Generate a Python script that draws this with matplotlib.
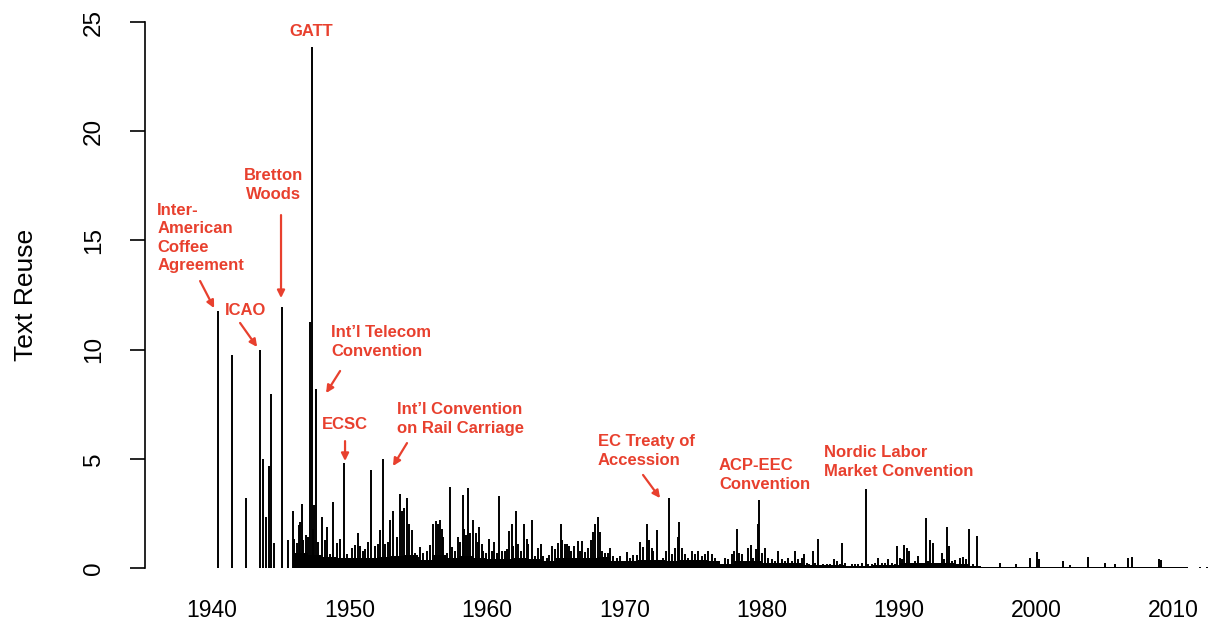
import numpy as np
import matplotlib
matplotlib.use("Agg")
import matplotlib.pyplot as plt

plt.rcParams['font.family'] = ['Liberation Sans', 'DejaVu Sans']

RED = '#E8402E'

# individual treaties: date (year) and text reuse score
treaty_years = [
    1940.44, 1941.46, 1942.47, 1943.49, 1943.73, 1943.93, 1944.13, 1944.32, 1944.53, 1945.07,
    1945.55, 1945.86, 1945.99, 1946.16, 1946.33, 1946.40, 1946.53, 1946.64, 1946.82, 1947.01,
    1947.10, 1947.24, 1947.35, 1947.45, 1947.57, 1947.74, 1947.98, 1948.22, 1948.39, 1948.59,
    1948.83, 1949.08, 1949.32, 1949.59, 1949.80, 1950.17, 1950.41, 1950.60, 1950.77, 1951.01,
    1951.14, 1951.38, 1951.57, 1951.86, 1952.10, 1952.23, 1952.42, 1952.59, 1952.79, 1952.98,
    1953.15, 1953.44, 1953.68, 1953.85, 1954.00, 1954.17, 1954.34, 1954.53, 1954.77, 1955.01,
    1955.14, 1955.38, 1955.63, 1955.87, 1956.11, 1956.27, 1956.43, 1956.59, 1956.72, 1956.83,
    1957.07, 1957.32, 1957.45, 1957.65, 1957.88, 1958.05, 1958.25, 1958.36, 1958.46, 1958.61,
    1958.78, 1959.02, 1959.19, 1959.38, 1959.45, 1959.63, 1959.75, 1959.92, 1960.16, 1960.36,
    1960.52, 1960.72, 1960.91, 1961.08, 1961.32, 1961.45, 1961.64, 1961.81, 1961.93, 1962.10,
    1962.29, 1962.49, 1962.71, 1962.90, 1963.02, 1963.31, 1963.51, 1963.75, 1963.92, 1964.11,
    1964.36, 1964.53, 1964.72, 1964.96, 1965.20, 1965.38, 1965.50, 1965.69, 1965.82, 1965.98,
    1966.13, 1966.35, 1966.62, 1966.78, 1966.95, 1967.15, 1967.39, 1967.56, 1967.71, 1967.87,
    1968.07, 1968.24, 1968.41, 1968.60, 1968.82, 1968.97, 1969.21, 1969.45, 1969.69, 1969.93,
    1970.18, 1970.42, 1970.66, 1970.91, 1971.15, 1971.39, 1971.64, 1971.81, 1972.00, 1972.12,
    1972.37, 1972.61, 1972.85, 1973.04, 1973.26, 1973.46, 1973.70, 1973.89, 1973.99, 1974.19,
    1974.43, 1974.67, 1974.91, 1975.15, 1975.39, 1975.64, 1975.88, 1976.12, 1976.37, 1976.61,
    1976.85, 1977.10, 1977.34, 1977.58, 1977.83, 1978.01, 1978.19, 1978.36, 1978.55, 1978.79,
    1979.03, 1979.23, 1979.40, 1979.57, 1979.72, 1979.81, 1980.05, 1980.25, 1980.49, 1980.74,
    1980.98, 1981.22, 1981.46, 1981.70, 1981.94, 1982.19, 1982.43, 1982.67, 1982.92, 1983.11,
    1983.28, 1983.47, 1983.76, 1983.89, 1984.08, 1984.25, 1984.49, 1984.74, 1984.98, 1985.29,
    1985.47, 1985.71, 1985.87, 1986.07, 1986.31, 1986.56, 1986.80, 1987.04, 1987.29, 1987.58,
    1987.77, 1988.01, 1988.25, 1988.49, 1988.74, 1988.98, 1989.22, 1989.47, 1989.71, 1989.89,
    1990.07, 1990.24, 1990.40, 1990.56, 1990.73, 1990.93, 1991.17, 1991.36, 1991.65, 1991.94,
    1992.11, 1992.26, 1992.50, 1992.73, 1993.11, 1993.27, 1993.47, 1993.64, 1993.86, 1994.11,
    1994.44, 1994.66, 1994.88, 1995.10, 1995.35, 1995.68, 1995.86, 1997.35, 1998.52, 1999.53,
    2000.07, 2000.21, 2001.96, 2002.45, 2003.76, 2004.99, 2005.72, 2006.65, 2006.98, 2008.95,
    2009.04, 2011.90, 2012.39,
]
treaty_reuse = [
    11.75, 9.75, 3.2, 10.0, 5.0, 2.35, 4.65, 7.95, 1.15, 11.95,
    1.3, 2.6, 1.35, 1.13, 1.97, 2.1, 2.95, 1.28, 1.5, 1.43,
    11.25, 23.85, 1.8, 2.9, 8.2, 1.2, 2.35, 1.28, 1.9, 0.63,
    3.0, 1.13, 1.35, 4.8, 0.63, 0.93, 1.07, 1.6, 1.0, 0.78,
    0.85, 1.2, 4.5, 1.0, 1.1, 1.75, 5.0, 1.1, 1.2, 2.2,
    2.6, 1.4, 3.4, 2.6, 2.75, 3.2, 2.0, 1.75, 0.7, 0.5,
    0.97, 0.7, 0.78, 1.05, 2.0, 2.15, 2.0, 2.2, 1.8, 1.43,
    0.7, 3.7, 0.95, 0.8, 1.4, 1.2, 3.35, 1.8, 1.5, 3.65,
    1.6, 2.2, 1.6, 1.2, 1.9, 1.1, 0.8, 0.7, 1.35, 0.8,
    1.2, 0.7, 3.3, 0.8, 0.8, 0.85, 1.7, 2.0, 1.0, 2.6,
    1.1, 0.8, 2.0, 1.35, 1.1, 2.2, 0.55, 0.9, 1.1, 0.55,
    0.47, 0.6, 1.0, 0.85, 1.13, 2.0, 1.28, 1.1, 1.1, 1.0,
    0.8, 1.0, 1.25, 0.8, 1.25, 0.75, 0.9, 1.3, 1.65, 2.0,
    2.35, 1.65, 0.8, 0.7, 0.7, 0.9, 0.55, 0.47, 0.55, 0.3,
    0.75, 0.47, 0.6, 0.6, 1.2, 0.95, 2.0, 1.28, 0.93, 0.78,
    1.75, 0.3, 0.47, 0.78, 3.2, 0.63, 0.93, 1.43, 2.1, 0.93,
    0.63, 0.47, 0.78, 0.63, 0.78, 0.55, 0.63, 0.78, 0.63, 0.47,
    0.25, 0.17, 0.47, 0.4, 0.63, 0.78, 1.8, 0.7, 0.63, 0.3,
    0.93, 1.07, 0.47, 0.85, 2.0, 3.1, 0.7, 0.93, 0.47, 0.4,
    0.3, 0.8, 0.4, 0.3, 0.47, 0.3, 0.8, 0.4, 0.47, 0.63,
    0.25, 0.17, 0.8, 0.25, 1.35, 0.1, 0.17, 0.17, 0.17, 0.4,
    0.3, 0.17, 1.15, 0.25, 0.1, 0.17, 0.17, 0.17, 0.25, 3.6,
    0.17, 0.17, 0.25, 0.47, 0.25, 0.25, 0.4, 0.25, 0.17, 1.0,
    0.47, 0.4, 1.05, 0.9, 0.78, 0.25, 0.3, 0.55, 0.17, 2.27,
    0.3, 1.28, 1.15, 0.2, 0.7, 0.4, 1.9, 1.0, 0.3, 0.35,
    0.47, 0.5, 0.4, 1.78, 0.2, 1.47, 0.1, 0.25, 0.2, 0.47,
    0.73, 0.4, 0.3, 0.15, 0.5, 0.25, 0.2, 0.47, 0.5, 0.42,
    0.35, 0.05, 0.05,
]

# baseline level of the dense mass of small scores, one value per year
floor_years = list(range(1945, 2013))
floor_reuse = [
    0.0, 0.7, 0.6, 0.5, 0.45, 0.45, 0.45, 0.5, 0.55, 0.6,
    0.35, 0.6, 0.45, 0.55, 0.45, 0.4, 0.4, 0.45, 0.4, 0.3,
    0.45, 0.45, 0.45, 0.5, 0.3, 0.3, 0.35, 0.35, 0.3, 0.35,
    0.35, 0.3, 0.2, 0.3, 0.3, 0.25, 0.25, 0.25, 0.15, 0.12,
    0.12, 0.1, 0.1, 0.12, 0.15, 0.22, 0.22, 0.22, 0.22, 0.2,
    0.08, 0.06, 0.06, 0.06, 0.06, 0.06, 0.06, 0.06, 0.06, 0.06,
    0.06, 0.06, 0.06, 0.06, 0.06, 0.05, 0.0, 0.0,
]

year_ticks = [1940, 1950, 1960, 1970, 1980, 1990, 2000, 2010]
reuse_ticks = [0, 5, 10, 15, 20, 25]

fig = plt.figure(figsize=(12.32, 6.36), dpi=100)
ax = fig.add_axes([145 / 1232, 68 / 636, 1070 / 1232, 546 / 636])

ax.fill_between(floor_years, 0, floor_reuse, step='post', color='black', lw=0)
ax.vlines(treaty_years, 0, treaty_reuse, color='black', lw=1.4)

ax.set_xlim(1935.12, 2013.0)
ax.set_ylim(0, 25)

for side in ['top', 'right', 'bottom']:
    ax.spines[side].set_visible(False)
ax.spines['left'].set_bounds(0, 25)
ax.spines['left'].set_linewidth(1.2)

ax.set_xticks(year_ticks)
ax.set_xticklabels([str(y) for y in year_ticks], fontsize=16.5)
ax.tick_params(axis='x', length=0, pad=22)
ax.set_yticks(reuse_ticks)
ax.set_yticklabels([str(v) for v in reuse_ticks], fontsize=17.5, rotation=90, va='center')
ax.tick_params(axis='y', length=11, width=1.2, pad=18)
ax.set_ylabel('Text Reuse', fontsize=19, labelpad=32)

txt = dict(color=RED, fontsize=12, fontweight='bold', linespacing=1.3, clip_on=False)
arrow = dict(arrowstyle='-|>', color=RED, lw=1.6, mutation_scale=11, shrinkA=0, shrinkB=0)

ax.text(1947.21, 24.55, 'GATT', ha='center', va='center', **txt)
ax.text(1944.44, 17.54, 'Bretton\nWoods', ha='center', va='center', multialignment='center', **txt)
ax.annotate('', xy=(1945.02, 12.36), xytext=(1945.02, 16.16), arrowprops=arrow)
ax.text(1936.0, 15.11, 'Inter-\nAmerican\nCoffee\nAgreement', ha='left', va='center', **txt)
ax.annotate('', xy=(1940.15, 11.9), xytext=(1939.13, 13.14), arrowprops=arrow)
ax.text(1942.47, 11.81, 'ICAO', ha='center', va='center', **txt)
ax.annotate('', xy=(1943.28, 10.12), xytext=(1942.04, 11.22), arrowprops=arrow)
ax.text(1948.66, 10.35, 'Int\u2019l Telecom\nConvention', ha='left', va='center', **txt)
ax.annotate('', xy=(1948.30, 8.01), xytext=(1949.32, 9.02), arrowprops=arrow)
ax.text(1949.68, 6.55, 'ECSC', ha='center', va='center', **txt)
ax.annotate('', xy=(1949.68, 4.9), xytext=(1949.68, 5.81), arrowprops=arrow)
ax.text(1953.46, 6.82, 'Int\u2019l Convention\non Rail Carriage', ha='left', va='center', **txt)
ax.annotate('', xy=(1953.17, 4.67), xytext=(1954.19, 5.72), arrowprops=arrow)
ax.text(1968.09, 5.36, 'EC Treaty of\nAccession', ha='left', va='center', **txt)
ax.annotate('', xy=(1972.61, 3.2), xytext=(1971.37, 4.26), arrowprops=arrow)
ax.text(1976.90, 4.26, 'ACP-EEC\nConvention', ha='left', va='center', **txt)
ax.text(1984.54, 4.85, 'Nordic Labor\nMarket Convention', ha='left', va='center', **txt)

fig.savefig('out.png', dpi=100)
